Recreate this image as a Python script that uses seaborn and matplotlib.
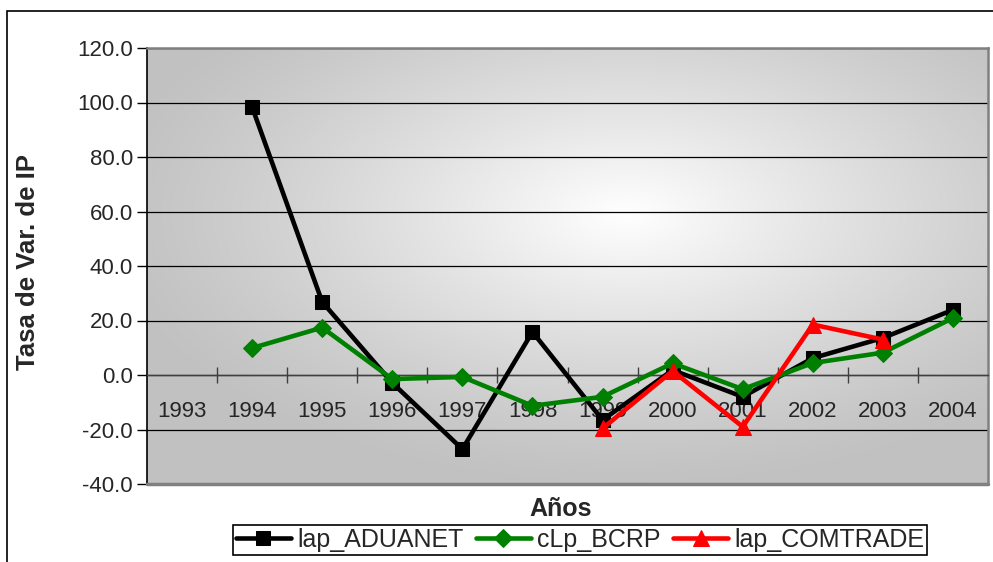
import numpy as np
import pandas as pd
import matplotlib
matplotlib.use("Agg")
import matplotlib.pyplot as plt
from matplotlib.patches import Rectangle
from matplotlib.ticker import FixedLocator, FuncFormatter
import seaborn as sns

# Annual growth rates of the price index by source
years = ["1993", "1994", "1995", "1996", "1997", "1998", "1999", "2000",
         "2001", "2002", "2003", "2004"]
lap_aduanet = [np.nan, 98.3, 26.8, -2.9, -27.2, 15.8, -16.5, 1.8, -8.0, 6.2, 13.6, 23.9]
clp_bcrp = [np.nan, 9.9, 17.4, -1.5, -0.7, -11.3, -8.0, 4.3, -5.2, 4.4, 8.2, 20.9]
lap_comtrade = [np.nan, np.nan, np.nan, np.nan, np.nan, np.nan, -19.6, 1.5, -19.0, 18.5, 13.0, np.nan]

series_names = ["lap_ADUANET", "cLp_BCRP", "lap_COMTRADE"]
series_values = [lap_aduanet, clp_bcrp, lap_comtrade]
series_colors = ["#000000", "#008000", "#ff0000"]
series_markers = ["s", "D", "^"]
series_msize = [10, 9, 11]

sns.set_theme(style="white")
plt.rcParams["font.family"] = ["Liberation Sans", "DejaVu Sans"]

W, H = 993, 562
fig = plt.figure(figsize=(W / 100, H / 100), dpi=100)
fig.patch.set_facecolor("white")

# outer chart frame
fig.patches.append(Rectangle((7 / W, -0.05), 1.1, 1 - 11 / H + 0.05,
                             transform=fig.transFigure, fill=False,
                             edgecolor="black", linewidth=1.2, zorder=0))

left, right, top, bottom = 147, 988, 48, 484
ax = fig.add_axes([left / W, 1 - bottom / H, (right - left) / W, (bottom - top) / H])

# radial grey-to-white plot-area fill
nx, ny = 400, 200
gx = np.linspace(0, 1, nx)
gy = np.linspace(0, 1, ny)
X, Y = np.meshgrid(gx, gy)
cx, cy = 0.57, 0.62
r = np.sqrt(((X - cx) / 0.62) ** 2 + ((Y - cy) / 0.62) ** 2)
r = np.clip(r, 0, 1)
shade = 0.76 + 0.24 * (1 - r) ** 1.2
img = np.dstack([shade, shade, shade])
ax.imshow(img, extent=[0, 1, 0, 1], transform=ax.transAxes, origin="lower",
          aspect="auto", zorder=0, interpolation="bilinear")

x_idx = np.arange(len(years))
frames = []
for name, vals in zip(series_names, series_values):
    frames.append(pd.DataFrame({"x": x_idx, "y": vals, "serie": name}))
df = pd.concat(frames, ignore_index=True)

for name, col, mk, ms in zip(series_names, series_colors, series_markers, series_msize):
    sub = df[df["serie"] == name].dropna()
    sns.lineplot(data=sub, x="x", y="y", ax=ax, color=col, linewidth=3.3,
                 marker=mk, markersize=ms, markeredgecolor=col,
                 markerfacecolor=col, label=name, zorder=5, estimator=None,
                 sort=False)

ax.set_xlim(-0.5, len(years) - 0.5)
ax.set_ylim(-40, 120)

# horizontal gridlines
for v in range(-20, 121, 20):
    ax.axhline(v, color="black", linewidth=0.9, zorder=1)

# y axis
ax.yaxis.set_major_locator(FixedLocator(list(range(-40, 121, 20))))
ax.yaxis.set_major_formatter(FuncFormatter(lambda v, p: f"{v:.1f}"))
ax.tick_params(axis="y", which="major", direction="out", length=7, width=1,
               color="black", labelsize=16, pad=3, left=True)

# x axis crossing at zero
ax.spines["bottom"].set_position(("data", 0))
ax.spines["bottom"].set_color("#404040")
ax.spines["bottom"].set_linewidth(1.0)
ax.set_xticks(x_idx)
ax.set_xticklabels(years)
ax.set_xticks(np.arange(0.5, len(years) - 0.5, 1), minor=True)
ax.tick_params(axis="x", which="major", length=0, labelsize=16, pad=19)
ax.tick_params(axis="x", which="minor", direction="inout", length=12,
               width=1, color="#404040", bottom=True)

ax.spines["left"].set_color("black")
ax.spines["left"].set_linewidth(1.2)
for s in ["top", "right"]:
    ax.spines[s].set_color("#808080")
    ax.spines[s].set_linewidth(1.8)

# bottom frame of plot area
ax.plot([0, 1], [0, 0], transform=ax.transAxes, color="#808080",
        linewidth=2.5, clip_on=False, zorder=6)

ax.set_xlabel("")
ax.set_ylabel("")
fig.text(28 / W, 1 - 262 / H, "Tasa de Var. de IP", rotation=90,
         ha="center", va="center", fontsize=18.5, fontweight="bold")
fig.text(561 / W, 1 - 509 / H, "Años", ha="center", va="center",
         fontsize=18, fontweight="bold")

handles, labels = ax.get_legend_handles_labels()
ax.get_legend().remove()
leg = fig.legend(handles, labels, loc="center", ncol=3,
                 bbox_to_anchor=(580 / W, 1 - 540 / H), fontsize=18,
                 frameon=True, fancybox=False, framealpha=1,
                 edgecolor="black", handlelength=2.2, handletextpad=0.25,
                 columnspacing=0.5, borderpad=0.12, borderaxespad=0)
leg.get_frame().set_linewidth(1.2)

fig.savefig("out.png", dpi=100)
